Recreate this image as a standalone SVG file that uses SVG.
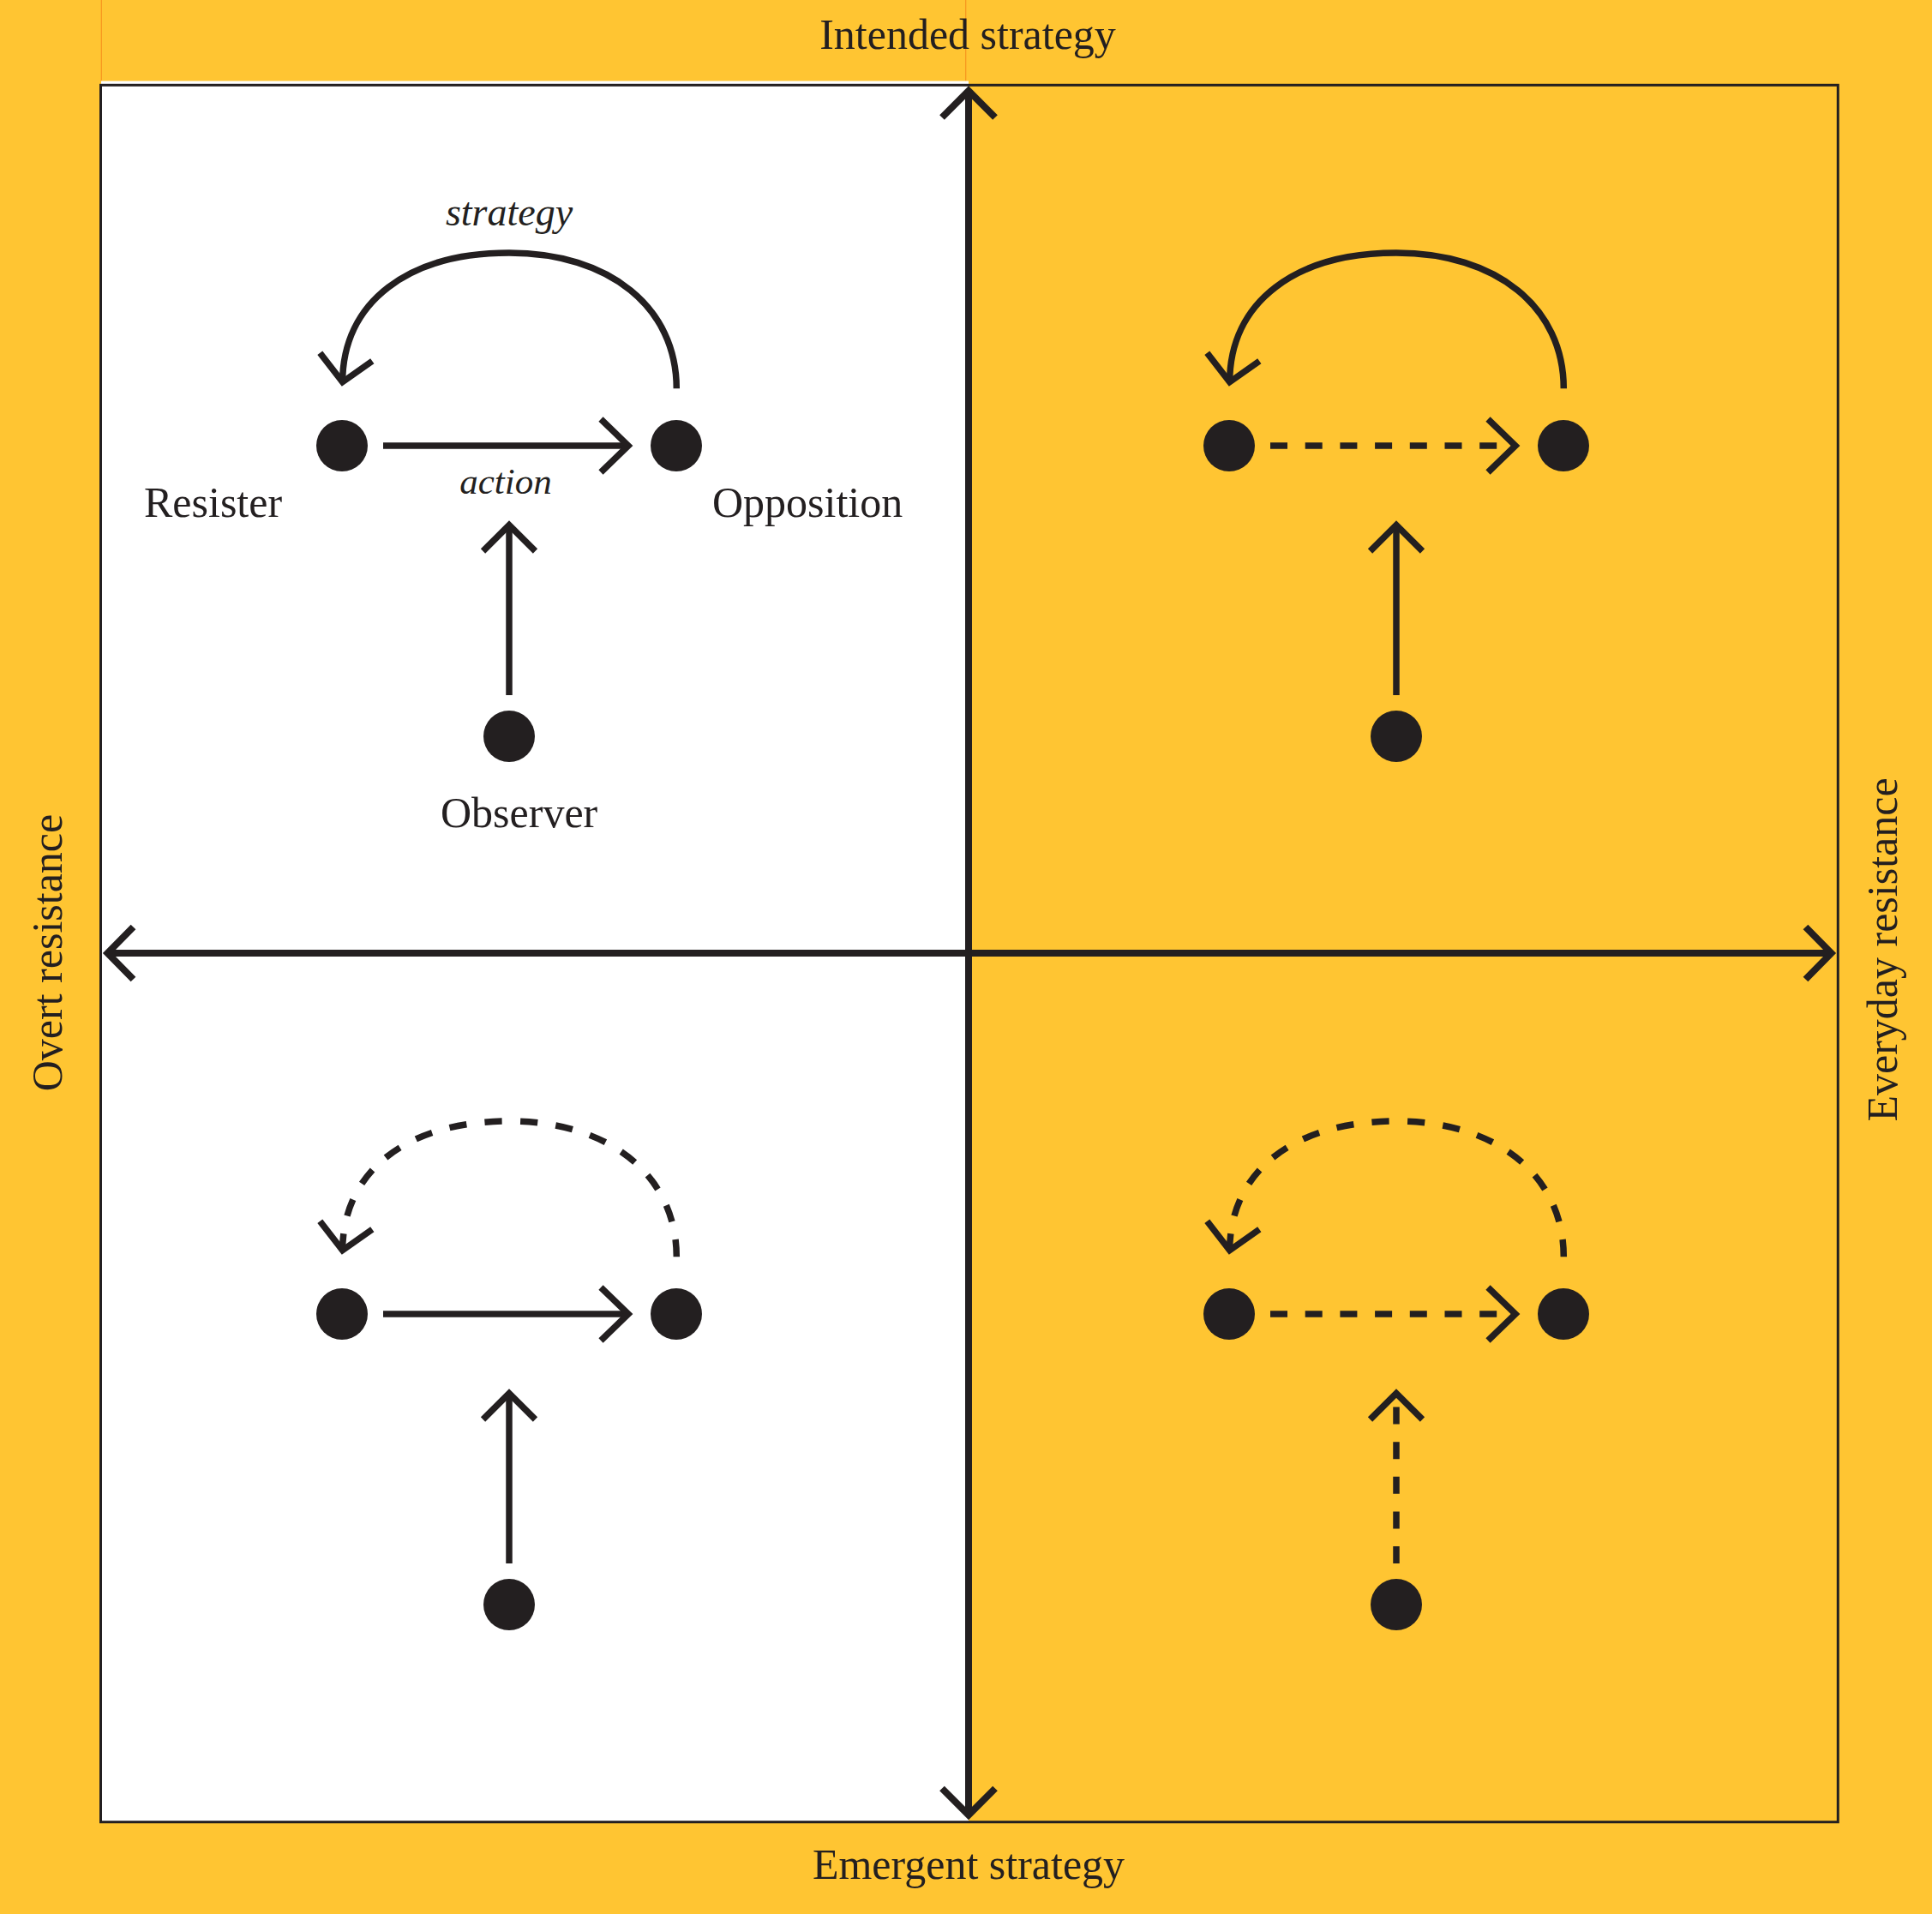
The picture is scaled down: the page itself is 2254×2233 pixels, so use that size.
<svg xmlns="http://www.w3.org/2000/svg" width="2254" height="2233" viewBox="0 0 2254 2233">
<style>
.bg{fill:#FFC532}
.ln{fill:none;stroke:#231F20;stroke-width:7.5;stroke-linecap:butt;stroke-linejoin:miter;stroke-miterlimit:10}
.ax{stroke-width:8}
.dh{stroke-dasharray:20 20.7}
.da{stroke-dasharray:20 21}
.dot{fill:#231F20}
.lbl{font-family:"Liberation Serif","Times New Roman",serif;font-size:50px;fill:#231F20}
.it{font-style:italic}
.guide{stroke:#F7941D;stroke-width:1.2;fill:none}
</style>
<g id="background">
<rect class="bg" x="0" y="0" width="2254" height="2233"/>
<line class="guide" x1="118.3" y1="0" x2="118.3" y2="94.5"/>
<line class="guide" x1="1126.7" y1="0" x2="1126.7" y2="94.5"/>
<rect x="118" y="94.5" width="1012" height="2031" fill="#FFFFFF"/>
<rect x="117.5" y="99.3" width="2026.8" height="2026.4" fill="none" stroke="#231F20" stroke-width="3"/>
</g>
<g id="axes">
<path class="ln ax" d="M1130 106 V2117.5"/>
<path class="ln ax" d="M1099 137 L1130 106 L1161 137"/>
<path class="ln ax" d="M1099 2086.5 L1130 2117.5 L1161 2086.5"/>
<path class="ln ax" d="M125.5 1112 H2136.5"/>
<path class="ln ax" d="M155.5 1081.5 L125.5 1112 L155.5 1142.5"/>
<path class="ln ax" d="M2106.5 1081.5 L2136.5 1112 L2106.5 1142.5"/>
</g>
<g id="axis-labels">
<text class="lbl" x="1129" y="57" text-anchor="middle">Intended strategy</text>
<text class="lbl" x="1130" y="2192" text-anchor="middle">Emergent strategy</text>
<text class="lbl" transform="translate(72,1111.5) rotate(-90)" text-anchor="middle">Overt resistance</text>
<text class="lbl" transform="translate(2213,1108) rotate(-90)" text-anchor="middle">Everyday resistance</text>
</g>
<g id="connectors">
<!-- top-left -->
<path class="ln" d="M789.3 453.3 C789.3 358.5 711 295 594 295 C477 295 399.6 351.7 399.6 446.5"/>
<path class="ln" d="M373.3 411.7 L399.6 445.7 L434.3 421.3"/>
<path class="ln" d="M447 520 H733"/>
<path class="ln" d="M701 489 L733 520 L701 551"/>
<path class="ln" d="M594 811 V612.5"/>
<path class="ln" d="M563.5 643 L594 612.5 L624.5 643"/>
<!-- top-right -->
<path class="ln" d="M1824.3 453.3 C1824.3 358.5 1746 295 1629 295 C1512 295 1434.6 351.7 1434.6 446.5"/>
<path class="ln" d="M1408.3 411.7 L1434.6 445.7 L1469.3 421.3"/>
<path class="ln dh" d="M1482 520 H1748"/>
<path class="ln" d="M1736 489 L1768 520 L1736 551"/>
<path class="ln" d="M1629 811 V612.5"/>
<path class="ln" d="M1598.5 643 L1629 612.5 L1659.5 643"/>
<!-- bottom-left -->
<path class="ln da" pathLength="553" d="M789.3 1466.3 C789.3 1371.5 711 1308 594 1308 C477 1308 399.6 1364.7 399.6 1459.5"/>
<path class="ln" d="M373.3 1424.7 L399.6 1458.7 L434.3 1434.3"/>
<path class="ln" d="M447 1533 H733"/>
<path class="ln" d="M701 1502 L733 1533 L701 1564"/>
<path class="ln" d="M594 1824 V1625.5"/>
<path class="ln" d="M563.5 1656 L594 1625.5 L624.5 1656"/>
<!-- bottom-right -->
<path class="ln da" pathLength="553" d="M1824.3 1466.3 C1824.3 1371.5 1746 1308 1629 1308 C1512 1308 1434.6 1364.7 1434.6 1459.5"/>
<path class="ln" d="M1408.3 1424.7 L1434.6 1458.7 L1469.3 1434.3"/>
<path class="ln dh" d="M1482 1533 H1748"/>
<path class="ln" d="M1736 1502 L1768 1533 L1736 1564"/>
<path class="ln" style="stroke-dasharray:20 20.6" d="M1629 1824 V1641.6"/>
<path class="ln" d="M1598.5 1656 L1629 1625.5 L1659.5 1656"/>
</g>
<g id="connector-labels">
<text class="lbl it" x="594" y="263" text-anchor="middle" style="font-size:46px">strategy</text>
<text class="lbl it" x="590" y="576" text-anchor="middle" style="font-size:43px">action</text>
</g>
<g id="tl-resister"><circle class="dot" cx="399" cy="520" r="30"/><text class="lbl" x="168" y="603">Resister</text></g>
<g id="tl-opposition"><circle class="dot" cx="789" cy="520" r="30"/><text class="lbl" x="831" y="603">Opposition</text></g>
<g id="tl-observer"><circle class="dot" cx="594" cy="859" r="30"/><text class="lbl" x="514" y="965">Observer</text></g>
<g id="tr-resister"><circle class="dot" cx="1434" cy="520" r="30"/></g>
<g id="tr-opposition"><circle class="dot" cx="1824" cy="520" r="30"/></g>
<g id="tr-observer"><circle class="dot" cx="1629" cy="859" r="30"/></g>
<g id="bl-resister"><circle class="dot" cx="399" cy="1533" r="30"/></g>
<g id="bl-opposition"><circle class="dot" cx="789" cy="1533" r="30"/></g>
<g id="bl-observer"><circle class="dot" cx="594" cy="1872" r="30"/></g>
<g id="br-resister"><circle class="dot" cx="1434" cy="1533" r="30"/></g>
<g id="br-opposition"><circle class="dot" cx="1824" cy="1533" r="30"/></g>
<g id="br-observer"><circle class="dot" cx="1629" cy="1872" r="30"/></g>
</svg>
